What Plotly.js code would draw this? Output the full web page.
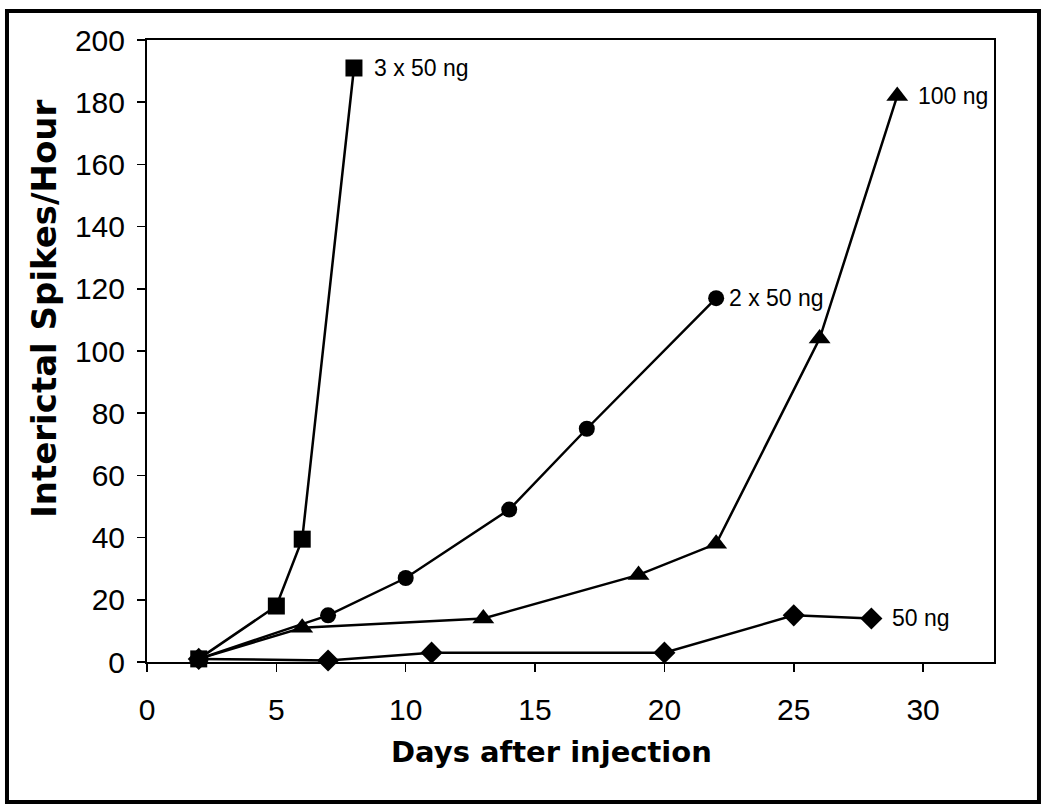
<!DOCTYPE html>
<html>
<head>
<meta charset="utf-8">
<script src="https://cdn.plot.ly/plotly-3.0.1.min.js"></script>
<style>
  html, body { margin: 0; padding: 0; background: #ffffff; }
  #chart { width: 1050px; height: 812px; }
</style>
</head>
<body>
<div id="chart"></div>
<script>
// ---- data ----
const seriesNames = ['3 x 50 ng', '2 x 50 ng', '100 ng', '50 ng'];
const days3x50 = [2, 5, 6, 8];
const spikes3x50 = [1, 18, 39.5, 191];
const days2x50 = [2, 7, 10, 14, 17, 22];
const spikes2x50 = [1, 15, 27, 49, 75, 117];
const days100 = [2, 6, 13, 19, 22, 26, 29];
const spikes100 = [1, 11, 14, 28, 38, 104, 182];
const days50 = [2, 7, 11, 20, 25, 28];
const spikes50 = [1, 0.5, 3, 3, 15, 14];
const xTickVals = [0, 5, 10, 15, 20, 25, 30];
const yTickVals = [0, 20, 40, 60, 80, 100, 120, 140, 160, 180, 200];
const xTitle = 'Days after injection';
const yTitle = 'Interictal Spikes/Hour';

// ---- styling ----
const black = '#000000';
const regFont = 'Liberation Sans, Arial, sans-serif';
const boldFont = 'DejaVu Sans, Verdana, sans-serif';

function lineTrace(x, y, name, symbol, size) {
  return {
    type: 'scatter', mode: 'lines+markers', x: x, y: y, name: name,
    line: { color: black, width: 2.5 },
    marker: { symbol: symbol, size: size, color: black, line: { width: 0 } },
    cliponaxis: false, showlegend: false, hoverinfo: 'x+y+name'
  };
}

const data = [
  lineTrace(days50, spikes50, seriesNames[3], 'diamond', 17),
  lineTrace(days100, spikes100, seriesNames[2], 'triangle-up', 19),
  lineTrace(days2x50, spikes2x50, seriesNames[1], 'circle', 16),
  lineTrace(days3x50, spikes3x50, seriesNames[0], 'square', 17)
];

const labelSpecs = [
  { name: seriesNames[0], x: days3x50, y: spikes3x50, shift: 18 },
  { name: seriesNames[1], x: days2x50, y: spikes2x50, shift: 11 },
  { name: seriesNames[2], x: days100, y: spikes100, shift: 19 },
  { name: seriesNames[3], x: days50, y: spikes50, shift: 19 }
];

const annotations = labelSpecs.map(s => ({
  x: s.x[s.x.length - 1], y: s.y[s.y.length - 1], xref: 'x', yref: 'y',
  text: s.name, showarrow: false, xanchor: 'left', yanchor: 'middle',
  xshift: s.shift, font: { family: regFont, size: 23, color: black }
}));

annotations.push({
  xref: 'paper', yref: 'paper', x: 0.478, y: -0.145,
  text: xTitle, showarrow: false, xanchor: 'center', yanchor: 'middle',
  font: { family: boldFont, size: 29, color: black, weight: 'bold' }
});
annotations.push({
  xref: 'paper', yref: 'paper', x: -0.121, y: 0.567,
  text: yTitle, showarrow: false, textangle: -90, xanchor: 'center', yanchor: 'middle',
  font: { family: boldFont, size: 34, color: black, weight: 'bold' }
});

const axisCommon = {
  showline: true, linewidth: 2, linecolor: black, mirror: true,
  ticks: 'outside', ticklen: 8, tickwidth: 1.5, tickcolor: black,
  showgrid: false, zeroline: false,
  tickfont: { family: regFont, size: 30, color: black }
};

const layout = {
  width: 1050, height: 812,
  margin: { l: 147, r: 56, t: 40, b: 150, pad: 0 },
  paper_bgcolor: '#ffffff', plot_bgcolor: '#ffffff',
  showlegend: false,
  xaxis: Object.assign({}, axisCommon, {
    range: [0, 32.74], tickmode: 'array', tickvals: xTickVals,
    ticktext: xTickVals.map(String), ticklabelstandoff: 12
  }),
  yaxis: Object.assign({}, axisCommon, {
    range: [0, 200], tickmode: 'array', tickvals: yTickVals,
    ticktext: yTickVals.map(String), ticklabelstandoff: 6
  }),
  annotations: annotations,
  shapes: [{
    type: 'rect', xref: 'paper', yref: 'paper',
    x0: -0.1653, x1: 1.0531, y0: -0.2251, y1: 1.0466,
    line: { color: black, width: 4 }, fillcolor: 'rgba(0,0,0,0)', layer: 'above'
  }]
};

Plotly.newPlot('chart', data, layout, { displayModeBar: false, staticPlot: true });
</script>
</body>
</html>
